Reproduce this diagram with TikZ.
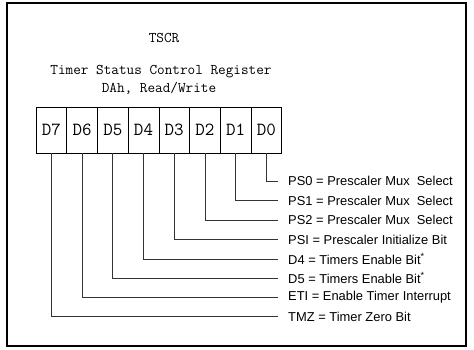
\documentclass[tikz,border=0pt]{standalone}
\usepackage{fontspec}
\setmainfont{Liberation Sans}
\begin{document}
\begin{tikzpicture}[x=1pt,y=-1pt,
  cell/.style={draw,line width=0.7pt,minimum width=30.7pt,minimum height=46pt,inner sep=0pt,font=\ttfamily\fontsize{18.5}{20}\selectfont},
  lbl/.style={anchor=west,inner sep=0pt,font=\fontsize{12.9}{14}\selectfont},
  conn/.style={line width=0.7pt,draw=black!80},
  title/.style={font=\ttfamily\fontsize{14.8}{16}\selectfont,inner sep=0pt}]
\useasboundingbox (0,0) rectangle (474,350);
\draw[line width=1.2pt] (7,3) rectangle (466,346);
\node[title] (t1) at (164,38) {TSCR};
\node[title] (t2) at (161,72) {Timer Status Control Register};
\node[title] (t3) at (159,88) {DAh, Read/Write};
\foreach \i/\b in {0/7,1/6,2/5,3/4,4/3,5/2,6/1,7/0} {
  \node[cell] (c\b) at (51.4+30.7*\i,130) {D\b};
}
\foreach \b/\y/\t in {0/181/{PS0 = Prescaler Mux\ \ Select},
  1/200.5/{PS1 = Prescaler Mux\ \ Select},
  2/220/{PS2 = Prescaler Mux\ \ Select},
  3/239.5/{PSI = Prescaler Initialize Bit},
  4/259/{D4 = Timers Enable Bit\textsuperscript{*}},
  5/278/{D5 = Timers Enable Bit\textsuperscript{*}},
  6/297/{ETI = Enable Timer Interrupt},
  7/316.5/{TMZ = Timer Zero Bit}} {
  \node[lbl] (l\b) at (288,\y) {\t};
  \draw[conn] (c\b.south) |- ([xshift=-10pt]l\b.west);
}
\end{tikzpicture}
\end{document}
